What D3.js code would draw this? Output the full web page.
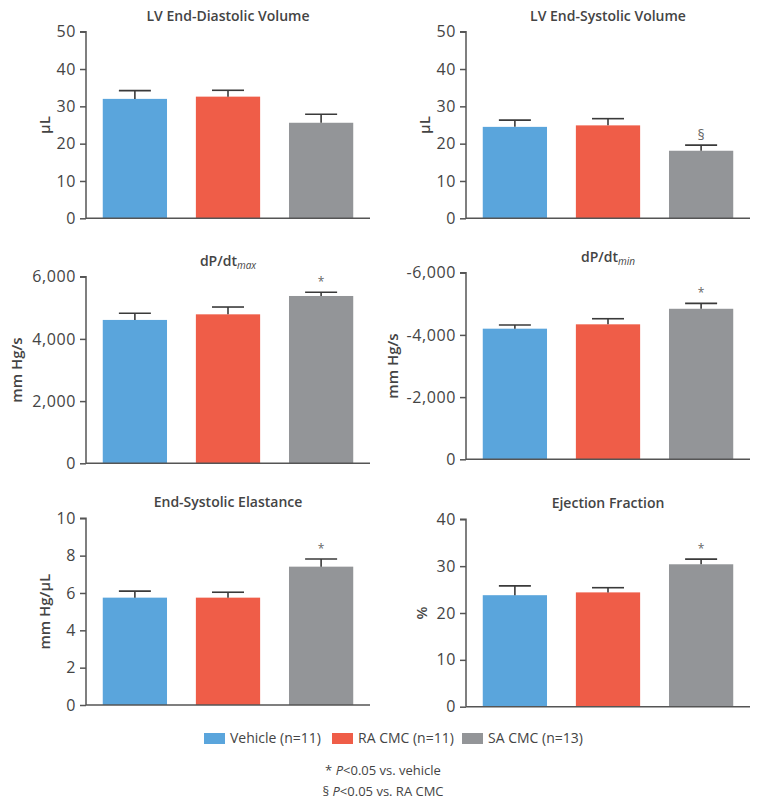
<!DOCTYPE html>
<html><head><meta charset="utf-8">
<script src="https://cdn.jsdelivr.net/npm/d3@7"></script>
<style>
body{margin:0;background:#fff;}
svg{display:block;font-family:"Open Sans",sans-serif;}
</style></head>
<body><svg id="c" width="760" height="807"></svg>
<script>
// ---- data ----
const categories = ["Vehicle (n=11)", "RA CMC (n=11)", "SA CMC (n=13)"];
const colors = ["#5aa5dc", "#ef5d48", "#939598"];

const edvMean = [32.0, 32.6, 25.6];
const edvSem  = [2.2, 1.7, 2.3];
const edvMark = ["", "", ""];
const edvTicks = [0, 10, 20, 30, 40, 50];

const esvMean = [24.5, 24.9, 18.1];
const esvSem  = [1.8, 1.8, 1.5];
const esvMark = ["", "", "§"];
const esvTicks = [0, 10, 20, 30, 40, 50];

const dpMaxMean = [4610, 4790, 5380];
const dpMaxSem  = [215, 235, 120];
const dpMaxMark = ["", "", "*"];
const dpMaxTicks = [0, 2000, 4000, 6000];

const dpMinMean = [-4200, -4340, -4840];
const dpMinSem  = [-120, -180, -175];
const dpMinMark = ["", "", "*"];
const dpMinTicks = [0, -2000, -4000, -6000];

const eesMean = [5.75, 5.75, 7.41];
const eesSem  = [0.35, 0.29, 0.41];
const eesMark = ["", "", "*"];
const eesTicks = [0, 2, 4, 6, 8, 10];

const efMean = [23.8, 24.4, 30.4];
const efSem  = [2.0, 1.0, 1.1];
const efMark = ["", "", "*"];
const efTicks = [0, 10, 20, 30, 40];

const footnotes = [["* ", "P", "<0.05 vs. vehicle"], ["§ ", "P", "<0.05 vs. RA CMC"]];

// ---- layout ----
const panels = [
  {title:["LV End-Diastolic Volume"], ylab:"µL", mean:edvMean, sem:edvSem, mark:edvMark, ticks:edvTicks, x0:86, top:31.7, bot:218.3, labX:45},
  {title:["LV End-Systolic Volume"], ylab:"µL", mean:esvMean, sem:esvSem, mark:esvMark, ticks:esvTicks, x0:466, top:31.7, bot:218.3, labX:425},
  {title:["dP/dt","max"], ylab:"mm Hg/s", mean:dpMaxMean, sem:dpMaxSem, mark:dpMaxMark, ticks:dpMaxTicks, x0:86, top:276.7, bot:463.3, labX:17},
  {title:["dP/dt","min"], ylab:"mm Hg/s", mean:dpMinMean, sem:dpMinSem, mark:dpMinMark, ticks:dpMinTicks, x0:466, top:272.7, bot:459.3, labX:393},
  {title:["End-Systolic Elastance"], ylab:"mm Hg/µL", mean:eesMean, sem:eesSem, mark:eesMark, ticks:eesTicks, x0:86, top:518.3, bot:705, labX:45},
  {title:["Ejection Fraction"], ylab:"%", mean:efMean, sem:efSem, mark:efMark, ticks:efTicks, x0:466, top:519.3, bot:706.7, labX:422}
];

const svg = d3.select("#c");
const axisCol = "#555", textCol = "#444";
const fmt = d => d3.format(",")(d).replace("−", "-");

panels.forEach(p => {
  const g = svg.append("g");
  const x = d3.scaleBand().domain(categories).range([p.x0, p.x0 + 284]).paddingInner(0.31).paddingOuter(0.18);
  const y = d3.scaleLinear().domain([0, p.ticks[p.ticks.length - 1]]).range([p.bot, p.top]);

  // bars
  g.selectAll("rect.bar").data(categories).enter().append("rect")
    .attr("x", d => x(d)).attr("width", x.bandwidth())
    .attr("y", (d, i) => y(p.mean[i]))
    .attr("height", (d, i) => p.bot - y(p.mean[i]))
    .attr("fill", (d, i) => colors[i]);

  // error bars
  categories.forEach((c, i) => {
    const cx = x(c) + x.bandwidth() / 2;
    const yt = y(p.mean[i] + p.sem[i]);
    g.append("line").attr("x1", cx).attr("x2", cx).attr("y1", y(p.mean[i])).attr("y2", yt)
      .attr("stroke", "#3a3a3a").attr("stroke-width", 1.6);
    g.append("line").attr("x1", cx - 16).attr("x2", cx + 16).attr("y1", yt).attr("y2", yt)
      .attr("stroke", "#3a3a3a").attr("stroke-width", 1.6);
    if (p.mark[i]) {
      g.append("text").attr("x", cx).attr("y", yt - (p.mark[i] === "*" ? 6 : 5))
        .attr("text-anchor", "middle").attr("fill", "#666")
        .attr("font-size", p.mark[i] === "*" ? 12 : 14).text(p.mark[i]);
    }
  });

  // y axis
  const ax = g.append("g").attr("transform", `translate(${p.x0},0)`)
    .call(d3.axisLeft(y).tickValues(p.ticks).tickFormat(fmt).tickSize(6).tickPadding(4));
  ax.select(".domain").attr("stroke", axisCol).attr("stroke-width", 1.5).attr("d", `M-6,${p.top}H0V${p.bot}`);
  ax.selectAll(".tick line").attr("stroke", axisCol).attr("stroke-width", 1.5);
  ax.selectAll(".tick text").attr("fill", textCol).attr("font-size", 16).attr("letter-spacing", 0.6)
    .attr("font-family", "Open Sans, sans-serif");

  // x baseline
  g.append("line").attr("x1", p.x0).attr("x2", p.x0 + 284).attr("y1", p.bot).attr("y2", p.bot)
    .attr("stroke", axisCol).attr("stroke-width", 1.5);

  // title
  const t = g.append("text").attr("x", p.x0 + 142).attr("y", p.top - 11)
    .attr("text-anchor", "middle").attr("fill", textCol).attr("font-size", 14).attr("font-weight", 600);
  t.append("tspan").text(p.title[0]);
  if (p.title[1]) t.append("tspan").attr("font-size", 10).attr("font-style", "italic").attr("font-weight", 400).attr("dy", 3).text(p.title[1]);

  // y label
  g.append("text").attr("transform", `translate(${p.labX + 5},${(p.top + p.bot) / 2}) rotate(-90)`)
    .attr("text-anchor", "middle").attr("fill", textCol).attr("font-size", 15).attr("font-weight", 600).text(p.ylab);
});

// legend
const legX = [204, 332, 462];
const leg = svg.append("g");
categories.forEach((c, i) => {
  leg.append("rect").attr("x", legX[i]).attr("y", 733).attr("width", 21).attr("height", 11).attr("fill", colors[i]);
  leg.append("text").attr("x", legX[i] + 26).attr("y", 743).attr("fill", textCol).attr("font-size", 14).text(c);
});

// footnotes
footnotes.forEach((f, i) => {
  const t = svg.append("text").attr("x", 383).attr("y", 775 + i * 21).attr("text-anchor", "middle")
    .attr("fill", textCol).attr("font-size", 13);
  t.append("tspan").text(f[0]);
  t.append("tspan").attr("font-style", "italic").text(f[1]);
  t.append("tspan").text(f[2]);
});
</script></body></html>
